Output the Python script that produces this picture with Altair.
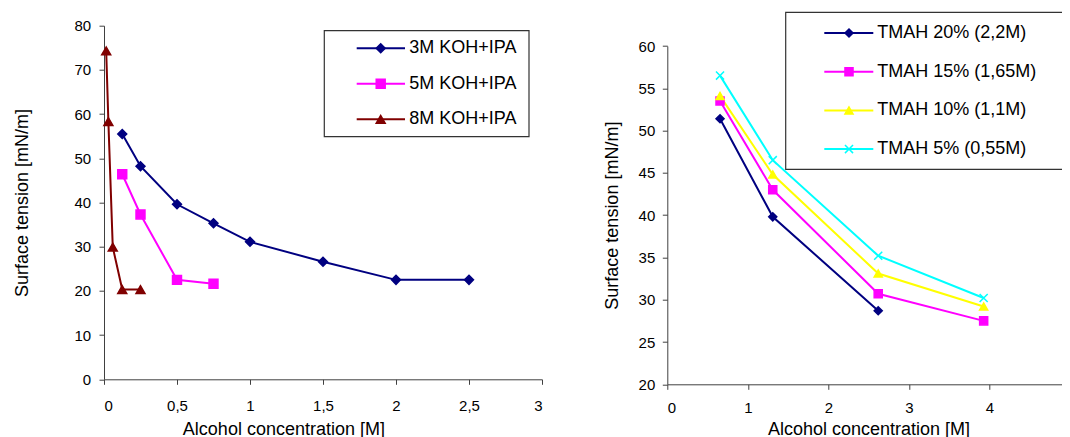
import altair as alt
import pandas as pd

FONT = "Liberation Sans"

# ---------------- data: left panel (KOH + IPA) ----------------
koh_series = ["3M KOH+IPA", "5M KOH+IPA", "8M KOH+IPA"]
koh_colors = ["#000080", "#FF00FF", "#800000"]
koh_shapes = ["diamond", "square", "triangle-up"]

koh3_x = [0.125, 0.25, 0.5, 0.75, 1.0, 1.5, 2.0, 2.5]
koh3_y = [55.5, 48.2, 39.6, 35.3, 31.1, 26.6, 22.5, 22.5]
koh5_x = [0.125, 0.25, 0.5, 0.75]
koh5_y = [46.4, 37.3, 22.5, 21.6]
koh8_x = [0.015, 0.03, 0.06, 0.125, 0.25]
koh8_y = [74.3, 58.3, 29.9, 20.3, 20.3]

# ---------------- data: right panel (TMAH) ----------------
tmah_series = ["TMAH 20% (2,2M)", "TMAH 15% (1,65M)", "TMAH 10% (1,1M)", "TMAH 5% (0,55M)"]
tmah_colors = ["#000080", "#FF00FF", "#FFFF00", "#00FFFF"]
XMARK = "M-1,-1L1,1M-1,1L1,-1"
tmah_shapes = ["diamond", "square", "triangle-up", XMARK]

tmah_x = [0.655, 1.31, 2.62, 3.93]
tmah20_y = [51.4, 39.8, 28.7]
tmah15_y = [53.5, 43.0, 30.7, 27.5]
tmah10_y = [54.1, 44.8, 33.1, 29.2]
tmah5_y = [56.5, 46.5, 35.2, 30.2]

left_xticks = [0, 0.5, 1, 1.5, 2, 2.5, 3]
left_yticks = [0, 10, 20, 30, 40, 50, 60, 70, 80]
right_xticks = [0, 1, 2, 3, 4, 5]
right_yticks = [20, 25, 30, 35, 40, 45, 50, 55, 60]


def long_df(series, xs, ys):
    rows = []
    for name, x, y in zip(series, xs, ys):
        for xi, yi in zip(x, y):
            rows.append({"series": name, "x": xi, "y": yi})
    return pd.DataFrame(rows)


koh_df = long_df(koh_series, [koh3_x, koh5_x, koh8_x], [koh3_y, koh5_y, koh8_y])
tmah_df = long_df(
    tmah_series,
    [tmah_x[:3], tmah_x, tmah_x, tmah_x],
    [tmah20_y, tmah15_y, tmah10_y, tmah5_y],
)


def panel(df, series, colors, shapes, xdom, ydom, yrange, xticks, yticks,
          width, height, msize, axx, axy, legend):
    cs = alt.Scale(domain=series, range=colors)
    ss = alt.Scale(domain=series, range=shapes)
    yscale = alt.Scale(domain=ydom, nice=False, zero=False)
    if yrange is not None:
        yscale = alt.Scale(domain=ydom, range=yrange, nice=False, zero=False)
    x = alt.X("x:Q", scale=alt.Scale(domain=xdom, nice=False, zero=False),
              axis=alt.Axis(values=xticks, title="Alcohol concentration [M]",
                            labelExpr="replace(toString(datum.value), '.', ',')",
                            tickSize=5, labelPadding=axx[0],
                            titleX=axx[1], titleY=axx[2]))
    y = alt.Y("y:Q", scale=yscale,
              axis=alt.Axis(values=yticks, title="Surface tension [mN/m]",
                            tickSize=5, labelPadding=axy[0], titlePadding=axy[1]))
    base = alt.Chart(df)
    lines = base.mark_line(strokeWidth=2).encode(
        x=x, y=y, color=alt.Color("series:N", scale=cs, legend=None), detail="series:N"
    )
    pts = base.mark_point(filled=True, strokeWidth=1.5, opacity=1).encode(
        x="x:Q", y="y:Q",
        fill=alt.Fill("series:N", scale=cs, legend=None),
        stroke=alt.Stroke("series:N", scale=cs, legend=None),
        shape=alt.Shape("series:N", scale=ss, legend=None),
        size=alt.value(msize),
    )

    # manual legend (box, line sample, marker, label)
    (bx0, bx1, by0, by1), (ry0, rdy), (lx0, lx1), mx, tx = legend
    box = alt.Chart(pd.DataFrame({"b": [0]})).mark_rect(
        fill="white", stroke="#333333", strokeWidth=1.2
    ).encode(x=alt.value(bx0), x2=alt.value(bx1), y=alt.value(by0), y2=alt.value(by1))
    leg = alt.Chart(pd.DataFrame({"series": series, "i": list(range(len(series)))})
                    ).transform_calculate(ly=f"{ry0} + datum.i * {rdy}")
    lrule = leg.mark_rule(strokeWidth=2).encode(
        x=alt.value(lx0), x2=alt.value(lx1), y=alt.Y("ly:Q", scale=None),
        color=alt.Color("series:N", scale=cs, legend=None),
    )
    lpts = leg.mark_point(filled=True, strokeWidth=1.5, opacity=1).encode(
        x=alt.value(mx), y=alt.Y("ly:Q", scale=None),
        fill=alt.Fill("series:N", scale=cs, legend=None),
        stroke=alt.Stroke("series:N", scale=cs, legend=None),
        shape=alt.Shape("series:N", scale=ss, legend=None),
        size=alt.value(msize),
    )
    ltxt = leg.mark_text(align="left", baseline="middle", font=FONT, fontSize=18,
                         color="black").encode(
        x=alt.value(tx), y=alt.Y("ly:Q", scale=None), text="series:N"
    )
    return alt.layer(lines, pts, box, lrule, lpts, ltxt).properties(width=width, height=height)


left = panel(
    koh_df, koh_series, koh_colors, koh_shapes,
    [0, 3], [0, 80], None, left_xticks, left_yticks,
    438, 353.6, 80, (14, 179.4, 41.5), (8.3, 43),
    ((220.3, 425, 5, 111), (22.6, 35.5), (252.7, 301), 276.7, 305.3),
)

right = panel(
    tmah_df, tmah_series, tmah_colors, tmah_shapes,
    [0, 5], [20, 60], [358.6, 20.3], right_xticks, right_yticks,
    402.5, 358.6, 65, (11.6, 201.25, 36.5), (7.5, 17),
    ((118.4, 420, -13.4, 143.6), (7.3, 38.7), (157, 206), 181.7, 210),
)

chart = alt.hconcat(left, right, spacing=125.3, bounds="flush").resolve_scale(
    color="independent", fill="independent", stroke="independent", shape="independent"
).properties(
    autosize=alt.AutoSizeParams(type="none"),
    padding={"left": 96, "top": 17.7, "right": 958, "bottom": 411.3},
).configure_view(stroke=None).configure_axis(
    grid=False,
    domainColor="#404040",
    tickColor="#404040",
    domainWidth=1,
    tickWidth=1,
    labelFont=FONT,
    titleFont=FONT,
    labelFontSize=15,
    titleFontSize=18,
    titleFontWeight="normal",
    labelColor="black",
    titleColor="black",
)

chart.save("out.html", embed_options={"renderer": "svg", "actions": False})
